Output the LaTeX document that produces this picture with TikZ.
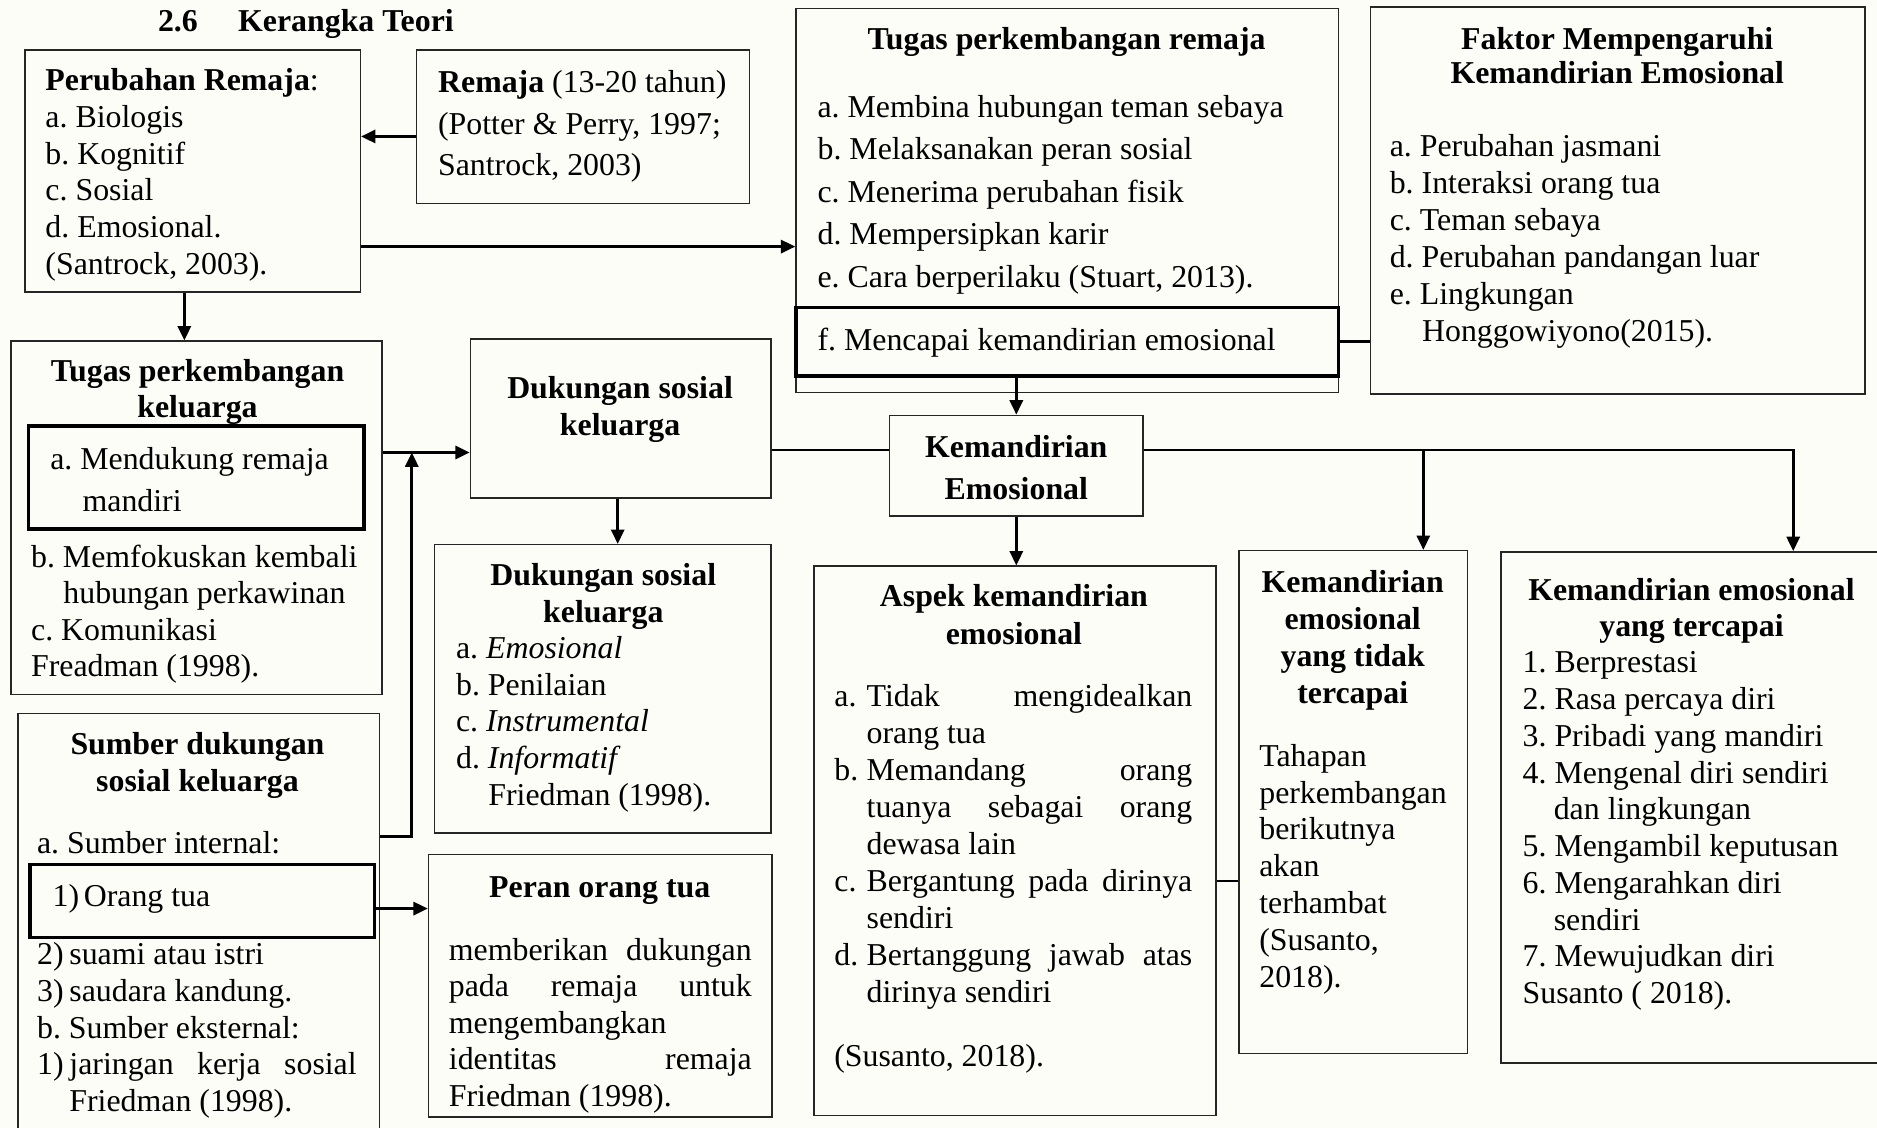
\documentclass[tikz,border=0pt]{standalone}
\usepackage{fontspec}
\setmainfont{Liberation Serif}
\usetikzlibrary{arrows.meta,fit}
\definecolor{bgc}{RGB}{253,253,248}
\frenchspacing
\newcommand{\tbx}[3]{\parbox[t]{#1}{\fontsize{13.3pt}{#2}\selectfont\frenchspacing\raggedright #3}}
\newcommand{\lab}[2]{\makebox[#1][l]{#2}}
\begin{document}
\begin{tikzpicture}[x=0.5pt,y=-0.5pt,
  box/.style={draw=black!85, line width=0.65pt, inner sep=0pt},
  thickbox/.style={draw=black, line width=1.4pt, inner sep=0pt},
  tx/.style={anchor=base west, inner sep=0pt, outer sep=0pt},
  ttl/.style={anchor=base, inner sep=0pt, outer sep=0pt},
  arr/.style={line width=1.1pt, -{Triangle[length=6pt,width=5.5pt]}},
  ln/.style={line width=1.1pt}]
\useasboundingbox (0,0) rectangle (1568,942);
\clip (0,0) rectangle (1568,942);
\fill[bgc] (0,0) rectangle (1568,942);

% title
\node[tx] (title) at (132,26.5) {\fontsize{13.3pt}{15pt}\selectfont\bfseries\lab{33.5pt}{2.6}Kerangka Teori};

% boxes
\node[box, fit={(21,42) (301,244)}] (A) {};
\node[box, fit={(348,42) (626,170)}] (remaja) {};
\node[box, fit={(665,7) (1118,328)}] (C) {};
\node[thickbox, fit={(665,257) (1118,314)}] (f) {};
\node[box, fit={(1145,6) (1558,329)}] (D) {};
\node[box, fit={(9,285) (319,580)}] (B) {};
\node[thickbox, fit={(24,356) (304,442)}] (mandiri) {};
\node[box, fit={(393,283) (644,416)}] (DSK) {};
\node[box, fit={(363,455) (644,696)}] (DSK2) {};
\node[box, fit={(15,596) (317,980)}] (E) {};
\node[thickbox, fit={(25,722) (313,783)}] (ortu) {};
\node[box, fit={(358,714) (645,933)}] (peran) {};
\node[box, fit={(743,347) (955,431)}] (KE) {};
\node[box, fit={(680,473) (1016,932)}] (aspek) {};
\node[box, fit={(1035,460) (1226,880)}] (KEn) {};
\node[box, fit={(1254,461) (1600,888)}] (KEy) {};

% texts
\node[tx] (A-t) at (38,76) {\tbx{135pt}{15.3pt}{\textbf{Perubahan Remaja}:\\a. Biologis\\b. Kognitif\\c. Sosial\\d. Emosional.\\(Santrock, 2003).}};
\node[tx] (remaja-t) at (366,77) {\tbx{135pt}{17.5pt}{\textbf{Remaja} (13-20 tahun)\\(Potter \& Perry, 1997;\\Santrock, 2003)}};

\node[ttl] (C-h) at (891,41) {\tbx{220pt}{17.75pt}{\centering\bfseries Tugas perkembangan remaja}};
\node[tx] (C-t) at (683,98) {\tbx{220pt}{17.75pt}{a. Membina hubungan teman sebaya\\b. Melaksanakan peran sosial\\c. Menerima perubahan fisik\\d. Mempersipkan karir\\e. Cara berperilaku (Stuart, 2013).}};
\node[tx] (f-t) at (683,293) {\tbx{220pt}{17.75pt}{f. Mencapai kemandirian emosional}};

\node[ttl] (D-h) at (1351,41) {\tbx{200pt}{14.5pt}{\centering\bfseries Faktor Mempengaruhi\\Kemandirian Emosional}};
\node[tx] (D-t) at (1161,131) {\tbx{190pt}{15.4pt}{a. Perubahan jasmani\\b. Interaksi orang tua\\c. Teman sebaya\\d. Perubahan pandangan luar\\e. Lingkungan\\\hspace*{13.5pt}Honggowiyono(2015).}};

\node[ttl] (B-h) at (165,319) {\tbx{150pt}{15pt}{\centering\bfseries Tugas perkembangan\\keluarga}};
\node[tx] (mandiri-t) at (42,392) {\tbx{135pt}{17.5pt}{a. Mendukung remaja\\\hspace*{13.5pt}mandiri}};
\node[tx] (B-t) at (26,474) {\tbx{150pt}{15.2pt}{b. Memfokuskan kembali\\\hspace*{13.5pt}hubungan perkawinan\\c. Komunikasi\\Freadman (1998).}};

\node[ttl] (DSK-h) at (518,333) {\tbx{120pt}{15.5pt}{\centering\bfseries Dukungan sosial\\keluarga}};
\node[ttl] (DSK2-h) at (504,489) {\tbx{120pt}{15.5pt}{\centering\bfseries Dukungan sosial\\keluarga}};
\node[tx] (DSK2-t) at (381,550) {\tbx{125pt}{15.35pt}{a. \textit{Emosional}\\b. Penilaian\\c. \textit{Instrumental}\\d. \textit{Informatif}\\\hspace*{13.5pt}Friedman (1998).}};

\node[ttl] (E-h) at (165,630) {\tbx{140pt}{15.5pt}{\centering\bfseries Sumber dukungan\\sosial keluarga}};
\node[tx] (E-a) at (31,713) {\tbx{140pt}{15.3pt}{a. Sumber internal:}};
\node[tx] (ortu-t) at (44,757) {\tbx{130pt}{15.3pt}{\lab{13pt}{1)}Orang tua}};
\node[tx] (E-t) at (31,806) {\tbx{133.5pt}{15.3pt}{\lab{13.5pt}{2)}suami atau istri\\\lab{13.5pt}{3)}saudara kandung.\\b. Sumber eksternal:\\\lab{13.5pt}{1)}jaringan\hfill kerja\hfill sosial\\\hspace*{13.5pt}Friedman (1998).}};

\node[ttl] (peran-h) at (501,750) {\tbx{130pt}{15.5pt}{\centering\bfseries Peran orang tua}};
\node[tx] (peran-t) at (375,802) {\tbx{126.5pt}{15.25pt}{memberikan\hfill dukungan\\pada\hfill remaja\hfill untuk\\mengembangkan\\identitas\hfill remaja\\Friedman (1998).}};

\node[ttl] (KE-h) at (849,382) {\tbx{100pt}{17.5pt}{\centering\bfseries Kemandirian\\Emosional}};

\node[ttl] (aspek-h) at (847,507) {\tbx{150pt}{15.5pt}{\centering\bfseries Aspek kemandirian\\emosional}};
\node[tx] (aspek-t) at (697,590) {\tbx{149.5pt}{15.45pt}{\lab{13.5pt}{a.}Tidak\hfill mengidealkan\\
\hspace*{13.5pt}orang tua\\
\lab{13.5pt}{b.}Memandang\hfill orang\\
\hspace*{13.5pt}tuanya\hfill sebagai\hfill orang\\
\hspace*{13.5pt}dewasa lain\\
\lab{13.5pt}{c.}Bergantung\hfill pada\hfill dirinya\\
\hspace*{13.5pt}sendiri\\
\lab{13.5pt}{d.}Bertanggung\hfill jawab\hfill atas\\
\hspace*{13.5pt}dirinya sendiri}};
\node[tx] (aspek-s) at (697,891) {\tbx{149.5pt}{15.45pt}{(Susanto, 2018).}};

\node[ttl] (KEn-h) at (1130,495) {\tbx{90pt}{15.5pt}{\centering\bfseries Kemandirian\\emosional\\yang tidak\\tercapai}};
\node[tx] (KEn-t) at (1052,640) {\tbx{90pt}{15.4pt}{Tahapan\\perkembangan\\berikutnya\\akan\\terhambat\\(Susanto,\\2018).}};

\node[ttl] (KEy-h) at (1413,502) {\tbx{150pt}{15pt}{\centering\bfseries Kemandirian emosional\\yang tercapai}};
\node[tx] (KEy-t) at (1272,562) {\tbx{150pt}{15.35pt}{1. Berprestasi\\2. Rasa percaya diri\\3. Pribadi yang mandiri\\4. Mengenal diri sendiri\\\hspace*{13pt}dan lingkungan\\5. Mengambil keputusan\\6. Mengarahkan diri\\\hspace*{13pt}sendiri\\7. Mewujudkan diri\\Susanto ( 2018).}};

% connectors
\coordinate (yA) at (0,114);
\coordinate (yAC) at (0,206);
\coordinate (xAB) at (154,0);
\coordinate (yBD) at (0,378);
\coordinate (cE) at (344,699);
\coordinate (xD) at (516,0);
\coordinate (yOP) at (0,759);
\coordinate (yK) at (0,376);
\coordinate (xT) at (1189,0);
\coordinate (xR) at (1498,0);
\coordinate (yAT) at (0,736);

\draw[arr] (remaja.west |- yA) -- (A.east |- yA);
\draw[arr] (A.east |- yAC) -- (C.west |- yAC);
\draw[arr] (A.south -| xAB) -- (B.north -| xAB);
\draw[arr] (f.south -| KE.north) -- (KE.north);
\draw[line width=1.4pt] (f.east) -- (D.west |- f.east);
\draw[arr] (B.east |- yBD) -- (DSK.west |- yBD);
\draw[arr] (E.east |- cE) -- (cE) -- (cE |- yBD);
\draw[arr] (DSK.south -| xD) -- (DSK2.north -| xD);
\draw[arr] (ortu.east |- yOP) -- (peran.west |- yOP);
\draw[ln] (DSK.east |- yK) -- (KE.west |- yK);
\draw[arr] (KE.east |- yK) -- (xR |- yK) -- (KEy.north -| xR);
\draw[arr] (xT |- yK) -- (KEn.north -| xT);
\draw[arr] (KE.south) -- (aspek.north -| KE.south);
\draw[line width=0.65pt] (aspek.east |- yAT) -- (KEn.west |- yAT);
\end{tikzpicture}
\end{document}
